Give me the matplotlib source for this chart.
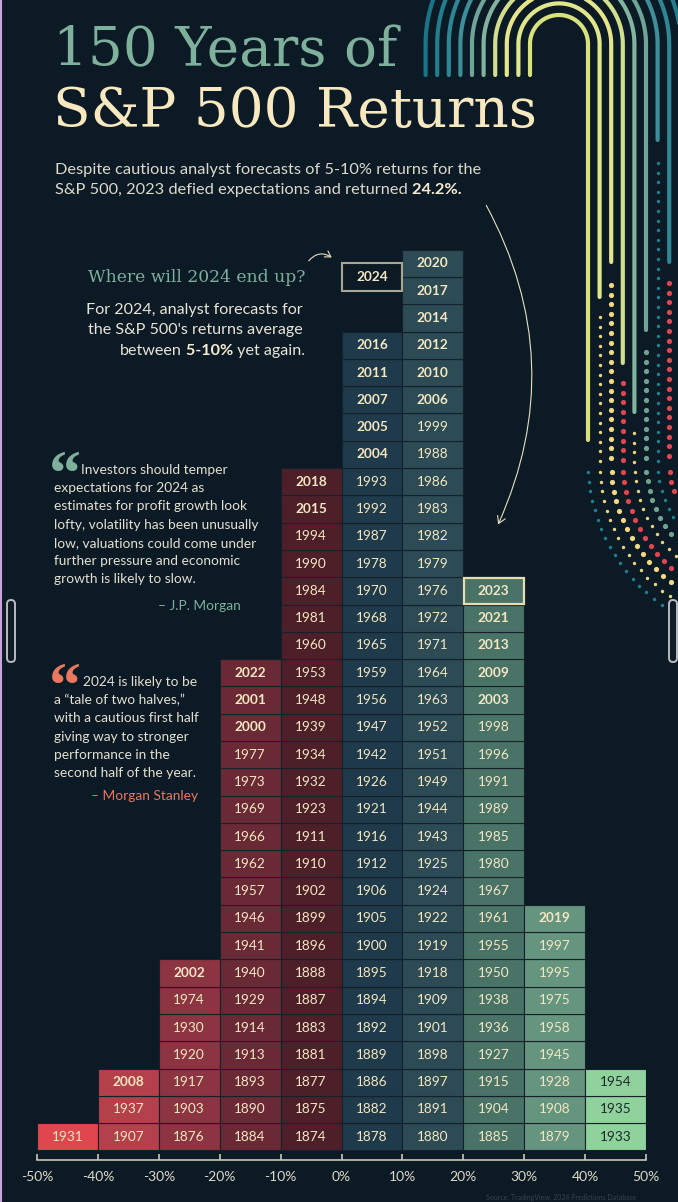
import matplotlib.pyplot as plt
from matplotlib.patches import FancyArrowPatch, FancyBboxPatch
import numpy as np

# years in each return bin, listed from the bottom of the stack upward
bin_lo = [-50, -40, -30, -20, -10, 0, 10, 20, 30, 40]
yrs_m50 = [1931]
yrs_m40 = [1907, 1937, 2008]
yrs_m30 = [1876, 1903, 1917, 1920, 1930, 1974, 2002]
yrs_m20 = [1884, 1890, 1893, 1913, 1914, 1929, 1940, 1941, 1946, 1957, 1962, 1966,
           1969, 1973, 1977, 2000, 2001, 2022]
yrs_m10 = [1874, 1875, 1877, 1881, 1883, 1887, 1888, 1896, 1899, 1902, 1910, 1911,
           1923, 1932, 1934, 1939, 1948, 1953, 1960, 1981, 1984, 1990, 1994, 2015, 2018]
yrs_p0 = [1878, 1882, 1886, 1889, 1892, 1894, 1895, 1900, 1905, 1906, 1912, 1916,
          1921, 1926, 1942, 1947, 1956, 1959, 1965, 1968, 1970, 1978, 1987, 1992,
          1993, 2004, 2005, 2007, 2011, 2016]
yrs_p10 = [1880, 1891, 1897, 1898, 1901, 1909, 1918, 1919, 1922, 1924, 1925, 1943,
           1944, 1949, 1951, 1952, 1963, 1964, 1971, 1972, 1976, 1979, 1982, 1983,
           1986, 1988, 1999, 2006, 2010, 2012, 2014, 2017, 2020]
yrs_p20 = [1885, 1904, 1915, 1927, 1936, 1938, 1950, 1955, 1961, 1967, 1980, 1985,
           1989, 1991, 1996, 1998, 2003, 2009, 2013, 2021, 2023]
yrs_p30 = [1879, 1908, 1928, 1945, 1958, 1975, 1995, 1997, 2019]
yrs_p40 = [1933, 1935, 1954]
columns = [yrs_m50, yrs_m40, yrs_m30, yrs_m20, yrs_m10, yrs_p0, yrs_p10, yrs_p20, yrs_p30, yrs_p40]
highlight_year = 2023
forecast_year = 2024
forecast_lo = 0
xticks = [-50, -40, -30, -20, -10, 0, 10, 20, 30, 40, 50]

BG = '#0c1a26'
CREAM = '#f3e6c2'
SAGE = '#7eb09c'
col_colors = ['#e0464d', '#b3404a', '#8c3441', '#6a2a35', '#4c1f29',
              '#1f3a4a', '#2c4b55', '#4a7368', '#65957f', '#8fd29c']

fig = plt.figure(figsize=(6.78, 12.02), dpi=100, facecolor=BG)

# pixel-space layer for titles, notes and decoration
bg = fig.add_axes([0, 0, 1, 1], zorder=0)
bg.set_xlim(0, 678)
bg.set_ylim(1202, 0)
bg.axis('off')
bg.set_facecolor(BG)

# chart layer
ax = fig.add_axes([37 / 678, 0, 609 / 678, 1], zorder=2)
ax.patch.set_alpha(0)
ax.set_xlim(-50, 50)
ax.set_ylim(-1.89, 42.15)

for lo, yrs, c in zip(bin_lo, columns, col_colors):
    n = len(yrs)
    ax.bar([lo + 5] * n, 1, bottom=np.arange(n), width=10, color=c,
           edgecolor='#15202a', linewidth=0.8, align='center', zorder=2)
    tc = '#1c2b2a' if lo == 40 else CREAM
    for i, yr in enumerate(yrs):
        ax.text(lo + 5, i + 0.5, str(yr), ha='center', va='center', fontsize=9.8,
                family='Lato', color=tc, fontweight='bold' if yr >= 2000 else 'normal',
                zorder=4)
        if yr == highlight_year:
            ax.bar(lo + 5, 0.96, bottom=i + 0.02, width=9.8, fill=False,
                   edgecolor='#e6ddb0', linewidth=1.6, zorder=3)

# forecast box for 2024
fb = len(yrs_p0) + 1.5
ax.bar(forecast_lo + 5, 1, bottom=fb, width=10, color=BG, edgecolor='#aaa78f',
       linewidth=1.5, zorder=3)
ax.text(forecast_lo + 5, fb + 0.5, str(forecast_year), ha='center', va='center',
        fontsize=9.8, family='Lato', fontweight='bold', color=CREAM, zorder=4)

# x axis
for s in ['top', 'left', 'right']:
    ax.spines[s].set_visible(False)
ax.spines['bottom'].set_position(('data', -0.34))
ax.spines['bottom'].set_color('#c9c6b5')
ax.spines['bottom'].set_linewidth(1.2)
ax.set_yticks([])
ax.set_xticks(xticks)
ax.set_xticklabels([f'{t}%' for t in xticks], family='Lato', fontsize=10, color='#dcd8c6')
ax.tick_params(axis='x', direction='in', length=4, width=1.2, color='#c9c6b5', pad=8)

# titles
serif = 'DejaVu Serif'
bg.text(53, 66, '150 Years of', family=serif, fontsize=39.5, color=SAGE, va='baseline')
bg.text(53, 127, 'S&P 500 Returns', family=serif, fontsize=39.5, color='#f7e8c0',
        va='baseline')

sub_kw = dict(family='Lato', fontsize=11.8, color='#dcd9cc', va='center')
bg.text(55, 170, 'Despite cautious analyst forecasts of 5-10% returns for the', **sub_kw)
t = bg.text(55, 190, 'S&P 500, 2023 defied expectations and returned', **sub_kw)
bg.annotate(' 24.2%.', xy=(1, 0), xycoords=t, ha='left', va='bottom', family='Lato',
            fontsize=11.8, color='#f5ecd2', fontweight='bold')

# 2024 note
bg.text(305, 278, 'Where will 2024 end up?', family=serif, fontsize=12.3, color=SAGE,
        ha='right', va='center')
note_kw = dict(family='Lato', fontsize=11.6, color='#e8e4d6', ha='right', va='center')
bg.text(303, 310, 'For 2024, analyst forecasts for', **note_kw)
bg.text(303, 330, "the S&P 500's returns average", **note_kw)
t3 = bg.text(305, 351, ' yet again.', **note_kw)
t2 = bg.annotate(' 5-10%', xy=(0, 0), xycoords=t3, ha='right', va='bottom', family='Lato',
                 fontsize=11.6, color='#f5ecd2', fontweight='bold')
bg.annotate('between', xy=(0, 0), xycoords=t2, ha='right', va='bottom', family='Lato',
            fontsize=11.6, color='#e8e4d6')

# quotes
q_kw = dict(family='Lato', fontsize=9.9, color='#e3dfcf', va='center')
bg.text(49, 450, '\u201c', family='Liberation Serif', fontweight='bold', fontsize=46,
        color=SAGE, va='top')
q1 = ['Investors should temper', 'expectations for 2024 as',
      'estimates for profit growth look', 'lofty, volatility has been unusually',
      'low, valuations could come under', 'further pressure and economic',
      'growth is likely to slow.']
for i, line in enumerate(q1):
    bg.text(81 if i == 0 else 54, 470 + 18.2 * i, line, **q_kw)
bg.text(241, 606, '\u2013 J.P. Morgan', family='Lato', fontsize=9.9, color=SAGE,
        ha='right', va='center')

bg.text(49, 662, '\u201c', family='Liberation Serif', fontweight='bold', fontsize=46,
        color='#e8775f', va='top')
q2 = ['2024 is likely to be', 'a \u201ctale of two halves,\u201d',
      'with a cautious first half', 'giving way to stronger',
      'performance in the', 'second half of the year.']
for i, line in enumerate(q2):
    bg.text(83 if i == 0 else 54, 682 + 18.2 * i, line, **q_kw)
bg.text(198, 796, '\u2013 Morgan Stanley', family='Lato', fontsize=9.9, color='#e8775f',
        ha='right', va='center')

# arrows
bg.add_patch(FancyArrowPatch((485, 203), (497, 527), connectionstyle='arc3,rad=-0.25',
                             arrowstyle='->,head_length=5,head_width=3', color='#e8dfc0',
                             lw=0.8, zorder=3))
bg.add_patch(FancyArrowPatch((307, 263), (334, 259), connectionstyle='arc3,rad=-0.5',
                             arrowstyle='->,head_length=4,head_width=2.5', color='#e8dfc0',
                             lw=0.8, zorder=3))

# decorative arches and dotted trails
cx, cy = 559, 44
arch_cols = ['#d8e27c', '#e2e68a', '#e6e58c', '#d2de8c', '#82b39e', '#6fa596',
             '#3d8f99', '#2e8794', '#227d8c', '#1b7388']
leg_end = [440, 297, 262, 363, 412, 330, 140, 262, 300, 300]
for k in range(10):
    r = 29 + 11.6 * k
    th = np.linspace(np.pi, 0, 80)
    xs = np.concatenate([[cx - r], cx + r * np.cos(th), [cx + r]])
    ys = np.concatenate([[75], cy - r * np.sin(th), [leg_end[k]]])
    bg.plot(xs, ys, color=arch_cols[k], lw=3, solid_capstyle='round', zorder=1)

dot_specs = [(462, '#1f8090', 6), (317, '#ecd47c', 6), (285, '#f2d982', 14),
             (383, '#e2454f', 14), (433, '#ecd47c', 6), (352, '#6fa58f', 14),
             (163, '#1f8090', 6), (283, '#e2454f', 14)]
cx2, cy2 = 763, 462
step = 9.6
for k, (y0, c, sz) in enumerate(dot_specs):
    x0 = cx + 29 + 11.6 * k
    R = cx2 - x0
    ys = np.arange(y0, cy2, step)
    xs = np.full_like(ys, x0)
    n = int(R * np.pi / 2 / step)
    a = np.linspace(0, np.pi / 2, n + 1)[1:]
    ax_ = cx2 - R * np.cos(a)
    ay_ = cy2 + R * np.sin(a)
    keep = ax_ < 676
    bg.scatter(np.concatenate([xs, ax_[keep]]), np.concatenate([ys, ay_[keep]]),
               s=sz, color=c, linewidths=0, zorder=1)

# screenshot frame bits
bg.axvline(0.8, color='#c9a3d9', lw=1.5)
for x0 in [7, 669]:
    bg.add_patch(FancyBboxPatch((x0, 600), 8, 62, boxstyle='round,pad=0,rounding_size=4',
                                fc='#111c24', ec='#b8bcc0', lw=1.4, zorder=5))

bg.text(636, 1197, 'Source: TradingView, 2024 Predictions Database', family='Lato',
        fontsize=5, color='#34434e', ha='right', va='center')

fig.savefig('out.png', dpi=100, facecolor=BG)
